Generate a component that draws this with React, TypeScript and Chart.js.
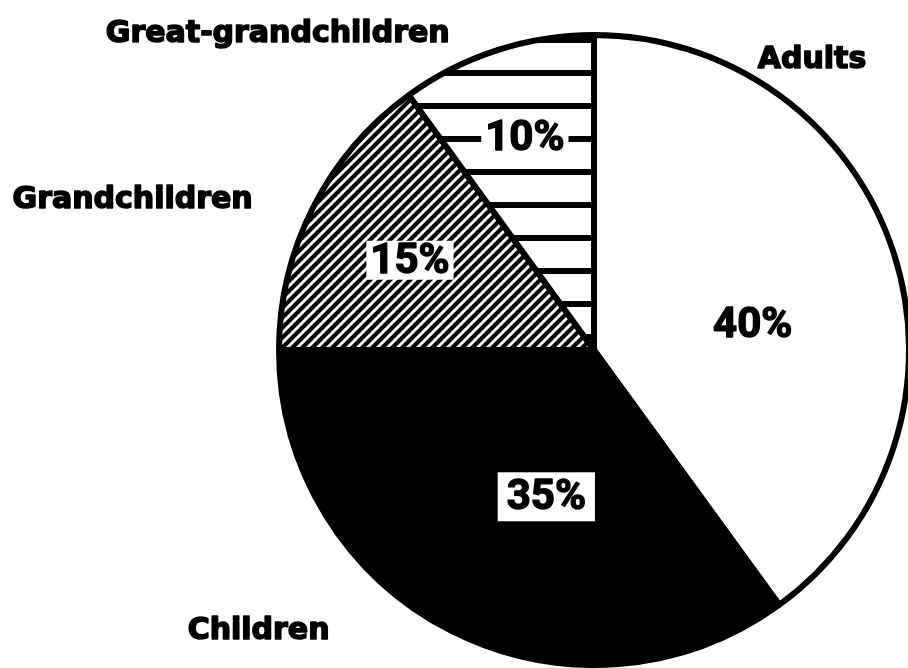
import React, { useEffect, useRef } from "react";
import { Chart, registerables } from "chart.js";

Chart.register(...registerables);

// ---- data ----
const categories = ["Adults", "Children", "Grandchildren", "Great-grandchildren"];
const shares = [40, 35, 15, 10];

// ---- label placement (polar, relative to pie centre; angle clockwise from 12 o'clock, radius in pie radii) ----
const nameAnglesDeg = [37, 230, 288, 315];
const nameRadii = [1.15, 1.39, 1.54, 1.42];
const pctAnglesDeg = [81, 198, 296, 342];
const pctRadii = [0.51, 0.49, 0.65, 0.71];
const pctPads = [0, 9, 4, 4];

const NAME_FONT = "'DejaVu Sans', Roboto, sans-serif";
const PCT_FONT = "Roboto, 'DejaVu Sans', sans-serif";

function makeStripePattern(): CanvasPattern | string {
  const c = document.createElement("canvas");
  c.width = 8;
  c.height = 33;
  const g = c.getContext("2d");
  if (!g) return "#fff";
  g.fillStyle = "#fff";
  g.fillRect(0, 0, 8, 33);
  g.fillStyle = "#000";
  g.fillRect(0, 4, 8, 6);
  return g.createPattern(c, "repeat") || "#fff";
}

function makeHatchPattern(): CanvasPattern | string {
  const s = 10;
  const c = document.createElement("canvas");
  c.width = s;
  c.height = s;
  const g = c.getContext("2d");
  if (!g) return "#888";
  g.fillStyle = "#fff";
  g.fillRect(0, 0, s, s);
  g.strokeStyle = "#000";
  g.lineWidth = 4.2;
  g.beginPath();
  g.moveTo(-1, s + 1);
  g.lineTo(s + 1, -1);
  g.moveTo(-2, 2);
  g.lineTo(2, -2);
  g.moveTo(s - 2, s + 2);
  g.lineTo(s + 2, s - 2);
  g.stroke();
  return g.createPattern(c, "repeat") || "#888";
}

const labelPlugin = {
  id: "pieLabels",
  afterDatasetsDraw(chart: any) {
    const meta = chart.getDatasetMeta(0);
    const arc0 = meta.data[0];
    if (!arc0) return;
    const cx = arc0.x;
    const cy = arc0.y;
    const R = arc0.outerRadius;
    const ctx = chart.ctx;
    ctx.save();
    ctx.textAlign = "center";
    ctx.textBaseline = "middle";
    ctx.lineJoin = "round";

    // category names outside the pie
    ctx.font = `bold 30px ${NAME_FONT}`;
    ctx.fillStyle = "#000";
    ctx.strokeStyle = "#000";
    ctx.lineWidth = 1.6;
    categories.forEach((name, i) => {
      const a = (nameAnglesDeg[i] * Math.PI) / 180;
      const x = cx + Math.sin(a) * nameRadii[i] * R;
      const y = cy - Math.cos(a) * nameRadii[i] * R;
      ctx.fillText(name, x, y);
      ctx.strokeText(name, x, y);
    });

    // percentages inside the slices
    ctx.font = `bold 42px ${PCT_FONT}`;
    shares.forEach((v, i) => {
      const text = `${v}%`;
      const a = (pctAnglesDeg[i] * Math.PI) / 180;
      const x = cx + Math.sin(a) * pctRadii[i] * R;
      const y = cy - Math.cos(a) * pctRadii[i] * R;
      const w = ctx.measureText(text).width;
      const h = 31;
      const p = pctPads[i];
      ctx.fillStyle = "#fff";
      ctx.fillRect(x - w / 2 - p, y - h / 2 - p, w + 2 * p, h + 2 * p);
      ctx.fillStyle = "#000";
      ctx.fillText(text, x, y + 2);
      ctx.lineWidth = 1.4;
      ctx.strokeText(text, x, y + 2);
    });
    ctx.restore();
  },
};

export default function App() {
  const ref = useRef<HTMLCanvasElement | null>(null);

  useEffect(() => {
    document.body.style.margin = "0";
    document.body.style.background = "#fff";
    const canvas = ref.current;
    if (!canvas) return;
    const fills = ["#ffffff", "#000000", makeHatchPattern(), makeStripePattern()];
    const chart = new Chart(canvas, {
      type: "pie",
      data: {
        labels: categories,
        datasets: [
          {
            data: shares,
            backgroundColor: fills as any,
            borderColor: "#000",
            borderWidth: 6,
          },
        ],
      },
      options: {
        responsive: false,
        animation: false,
        devicePixelRatio: 1,
        layout: { padding: { left: 276, right: 28, top: 32, bottom: 32 } },
        plugins: {
          legend: { display: false },
          tooltip: { enabled: false },
        },
      },
      plugins: [labelPlugin],
    });
    return () => chart.destroy();
  }, []);

  return (
    <div
      style={{
        position: "fixed",
        left: 0,
        top: 0,
        width: 908,
        height: 668,
        overflow: "hidden",
        background: "#fff",
      }}
    >
      <canvas ref={ref} width={940} height={700} style={{ width: 940, height: 700, display: "block" }} />
    </div>
  );
}
